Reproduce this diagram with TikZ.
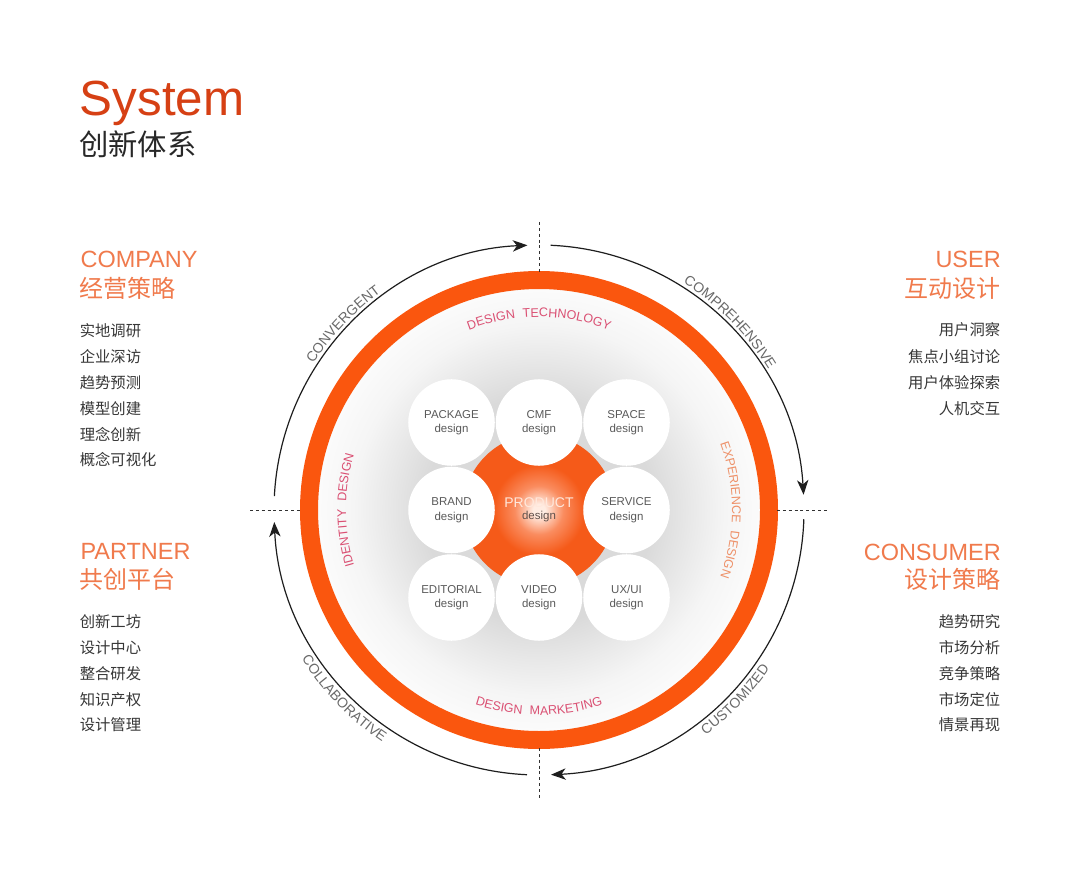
\documentclass[tikz,border=0pt]{standalone}
\usepackage{fontspec}
\setmainfont{Liberation Sans}
\newfontfamily\cjk{Noto Sans CJK SC}
\usetikzlibrary{arrows.meta,decorations.text}
\definecolor{titlered}{RGB}{214,64,20}
\definecolor{titlegray}{RGB}{40,40,40}
\definecolor{headorange}{RGB}{240,122,76}
\definecolor{listgray}{RGB}{55,55,55}
\definecolor{ringorange}{RGB}{250,86,14}
\definecolor{prodorange}{RGB}{245,90,25}
\definecolor{glowA}{RGB}{255,236,226}
\definecolor{glowB}{RGB}{250,140,95}
\definecolor{arcdark}{RGB}{30,30,30}
\definecolor{dashgray}{RGB}{50,50,50}
\definecolor{labgray}{RGB}{105,105,105}
\definecolor{innerpink}{RGB}{218,80,115}
\definecolor{innersalmon}{RGB}{238,145,105}
\definecolor{circtext}{RGB}{90,90,90}
\definecolor{prodtext}{RGB}{255,232,220}
\definecolor{proddesign}{RGB}{95,80,75}
\definecolor{haloA}{RGB}{218,218,218}
\definecolor{haloB}{RGB}{232,232,232}
\definecolor{haloC}{RGB}{245,245,245}
\definecolor{haloD}{RGB}{251,251,251}
\pgfdeclareradialshading{halo}{\pgfpoint{0bp}{0bp}}{color(0bp)=(haloA); color(13bp)=(haloA); color(17bp)=(haloB); color(21bp)=(haloC); color(25bp)=(haloD); color(50bp)=(haloD)}
\pgfdeclareradialshading{prodglow}{\pgfpoint{0bp}{0bp}}{color(0bp)=(glowA); color(2bp)=(glowA); color(8bp)=(glowB); color(15bp)=(prodorange); color(50bp)=(prodorange)}
\newcommand\arclabfont{\fontsize{10.5pt}{12pt}\selectfont}
\newcommand\inlabfont{\fontsize{9.4pt}{11pt}\selectfont}
\tikzset{
  titlefont/.style={font=\fontsize{37pt}{40pt}\selectfont, text=titlered, inner sep=0pt},
  subtitle/.style={font=\cjk\fontsize{22pt}{26pt}\selectfont, text=titlegray, inner sep=0pt},
  headen/.style={font=\fontsize{17.6pt}{20pt}\selectfont, text=headorange, inner sep=0pt},
  headcn/.style={font=\cjk\fontsize{18pt}{22pt}\selectfont, text=headorange, inner sep=0pt},
  item/.style={font=\cjk\fontsize{11.5pt}{14pt}\selectfont, text=listgray, inner sep=0pt},
  bub/.style={circle, fill=white, minimum size=64.9pt, inner sep=0pt, align=center,
    font=\fontsize{8.6pt}{10.9pt}\selectfont, text=circtext},
  arcline/.style={draw=arcdark, line width=0.9pt, -{Stealth[length=11pt,width=8.5pt,inset=3.2pt]}},
  dashline/.style={draw=dashgray, line width=0.75pt, dash pattern=on 2.2pt off 2.2pt},
  outlab/.style={decorate, decoration={text along path, text color=labgray, text align=center, text={|\arclabfont|#1}}},
  inlab/.style={decorate, decoration={text along path, text color=innerpink, text align=center, text={|\inlabfont|#1}}},
  inlabs/.style={decorate, decoration={text along path, text color=innersalmon, text align=center, text={|\inlabfont|#1}}}
}
\begin{document}
\begin{tikzpicture}[x=0.75pt,y=0.75pt]
\useasboundingbox (0,0) rectangle (1080,876);
\fill[white] (0,0) rectangle (1080,876);

% titles
\node[titlefont, anchor=base west] (sys) at (79.5,760) {System};
\node[subtitle, anchor=west] (sub) at (79,732) {创新体系};

% COMPANY
\node[headen, anchor=base west] (comp) at (80.3,609) {COMPANY};
\node[headcn, anchor=west] (compcn) at (79.5,588) {经营策略};
\node[item, anchor=west] (c1) at (79.5,545) {实地调研};
\node[item, anchor=west] (c2) at (79.5,519) {企业深访};
\node[item, anchor=west] (c3) at (79.5,493) {趋势预测};
\node[item, anchor=west] (c4) at (79.5,467) {模型创建};
\node[item, anchor=west] (c5) at (79.5,441.5) {理念创新};
\node[item, anchor=west] (c6) at (79.5,416) {概念可视化};

% USER
\node[headen, anchor=base east] (user) at (1001,609) {USER};
\node[headcn, anchor=east] (usercn) at (1000.5,587.5) {互动设计};
\node[item, anchor=east] (u1) at (1000.5,546) {用户洞察};
\node[item, anchor=east] (u2) at (1000.5,519.5) {焦点小组讨论};
\node[item, anchor=east] (u3) at (1000.5,493) {用户体验探索};
\node[item, anchor=east] (u4) at (1000.5,467) {人机交互};

% PARTNER
\node[headen, anchor=base west] (part) at (80.3,316.5) {PARTNER};
\node[headcn, anchor=west] (partcn) at (79.5,296.5) {共创平台};
\node[item, anchor=west] (p1) at (79.5,254.5) {创新工坊};
\node[item, anchor=west] (p2) at (79.5,228.5) {设计中心};
\node[item, anchor=west] (p3) at (79.5,202.5) {整合研发};
\node[item, anchor=west] (p4) at (79.5,176.5) {知识产权};
\node[item, anchor=west] (p5) at (79.5,151) {设计管理};

% CONSUMER
\node[headen, anchor=base east] (cons) at (1001,316) {CONSUMER};
\node[headcn, anchor=east] (conscn) at (1000.5,297) {设计策略};
\node[item, anchor=east] (k1) at (1000.5,254.5) {趋势研究};
\node[item, anchor=east] (k2) at (1000.5,228.5) {市场分析};
\node[item, anchor=east] (k3) at (1000.5,202.5) {竞争策略};
\node[item, anchor=east] (k4) at (1000.5,176.5) {市场定位};
\node[item, anchor=east] (k5) at (1000.5,151) {情景再现};

% centre
\coordinate (C) at (539,366);
\shade[shading=halo] (C) circle (221);
\shade[shading=prodglow] (C) circle (76);

\node[bub] (pkg) at (451.5,453.5) {PACKAGE\\design};
\node[bub] (cmf) at (539,453.5) {CMF\\design};
\node[bub] (spc) at (626.5,453.5) {SPACE\\design};
\node[bub] (brand) at (451.5,366) {BRAND\\design};
\node[bub] (serv) at (626.5,366) {SERVICE\\design};
\node[bub] (edit) at (451.5,278.5) {EDITORIAL\\design};
\node[bub] (video) at (539,278.5) {VIDEO\\design};
\node[bub] (uxui) at (626.5,278.5) {UX/UI\\design};

\node[font=\fontsize{10.5pt}{12pt}\selectfont, text=prodtext, anchor=base, inner sep=0pt] (prod) at (539,369) {PRODUCT};
\node[font=\fontsize{8.6pt}{10pt}\selectfont, text=proddesign, anchor=base, inner sep=0pt] (proddes) at (539,356.5) {design};

% ring
\draw[ringorange, line width=13.5pt] (C) circle (230);

% inner labels
\path[inlab={DESIGN {\kern3pt}TECHNOLOGY}] ([shift={(135:193)}]C) arc[start angle=135,end angle=45,radius=193];
\path[inlabs={EXPERIENCE {\kern3pt}DESIGN}] ([shift={(45:193)}]C) arc[start angle=45,end angle=-45,radius=193];
\path[inlab={IDENTITY {\kern3pt}DESIGN}] ([shift={(225:193)}]C) arc[start angle=225,end angle=135,radius=193];
\path[inlab={DESIGN {\kern3pt}MARKETING}] ([shift={(-135:205)}]C) arc[start angle=-135,end angle=-45,radius=205];

% outer arcs
\draw[arcline] ([shift={(177:265)}]C) arc[start angle=177,end angle=92.5,radius=265];
\draw[arcline] ([shift={(87.5:265)}]C) arc[start angle=87.5,end angle=3.3,radius=265];
\draw[arcline] ([shift={(-2:265)}]C) arc[start angle=-2,end angle=-87.4,radius=265];
\draw[arcline] ([shift={(-92.6:265)}]C) arc[start angle=-92.6,end angle=-177.4,radius=265];

% outer labels
\path[outlab={CONVERGENT}] ([shift={(175:269)}]C) arc[start angle=175,end angle=98,radius=269];
\path[outlab={COMPREHENSIVE}] ([shift={(83:269)}]C) arc[start angle=83,end angle=6,radius=269];
\path[outlab={CUSTOMIZED}] ([shift={(-83:280)}]C) arc[start angle=-83,end angle=-5,radius=280];
\path[outlab={COLLABORATIVE}] ([shift={(-175:280)}]C) arc[start angle=-175,end angle=-97,radius=280];

% dashed guides
\coordinate (dTa) at (539,654); \coordinate (dTb) at (539,604);
\coordinate (dBa) at (539,128); \coordinate (dBb) at (539,76);
\coordinate (dLa) at (250,366); \coordinate (dLb) at (301,366);
\coordinate (dRa) at (777,366); \coordinate (dRb) at (828,366);
\draw[dashline] (dTa) -- (dTb);
\draw[dashline] (dBa) -- (dBb);
\draw[dashline] (dLa) -- (dLb);
\draw[dashline] (dRa) -- (dRb);
\end{tikzpicture}
\end{document}
